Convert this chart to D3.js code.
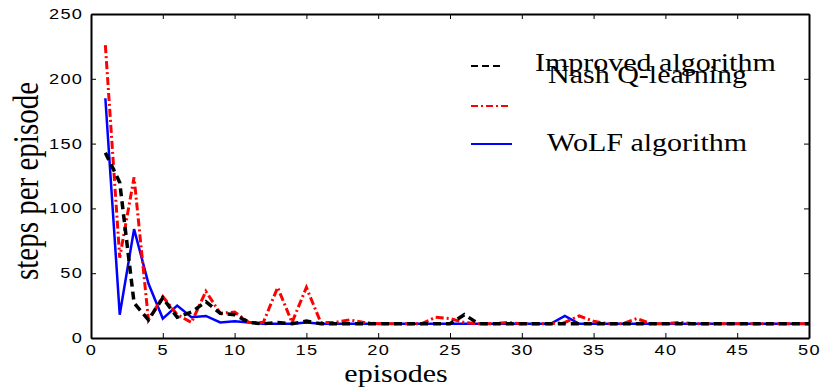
<!DOCTYPE html>
<html>
<head>
<meta charset="utf-8">
<script src="https://cdn.jsdelivr.net/npm/d3@7"></script>
<style>
  body { margin: 0; background: #fff; }
  svg { display: block; }
  .tick text { font-family: "Liberation Sans", Arial, sans-serif; font-size: 14px; fill: #000; }
  .lbl { font-family: "Liberation Serif", "Times New Roman", serif; fill: #000; }
</style>
</head>
<body>
<svg id="chart" width="822" height="389"></svg>
<script>
// episodes 1..50
const episodes = d3.range(1, 51);

const improvedSteps = [143, 120, 27, 14, 31, 16, 20, 28, 19, 18,
  12, 11, 12, 11, 13, 11, 11, 11, 11, 11,
  11, 11, 11, 11, 11, 18, 11, 11, 11, 11,
  11, 11, 11, 11, 11, 11, 11, 11, 11, 11,
  11, 11, 11, 11, 11, 11, 11, 11, 11, 11];

const nashSteps = [226, 62, 124, 14, 32, 18, 12, 36, 19, 20,
  12, 12, 39, 12, 39, 12, 12, 14, 12, 11,
  11, 11, 11, 16, 15, 12, 11, 11, 12, 11,
  11, 11, 12, 17, 13, 11, 11, 15, 11, 11,
  12, 11, 11, 11, 11, 11, 11, 11, 11, 11];

const wolfSteps = [185, 18, 84, 42, 15, 25, 16, 17, 12, 13,
  12, 11, 11, 11, 12, 11, 11, 11, 11, 11,
  11, 11, 11, 11, 11, 11, 11, 11, 11, 11,
  11, 11, 17, 11, 11, 11, 11, 11, 11, 11,
  11, 11, 11, 11, 11, 11, 11, 11, 11, 11];

const seriesNames = ["Improved algorithm", "Nash Q-learning", "WoLF algorithm"];
const xTicks = d3.range(0, 51, 5);
const yTicks = [0, 50, 100, 150, 200, 250];

const svg = d3.select("#chart");
const m = { left: 91, right: 809, top: 14, bottom: 338 };

const x = d3.scaleLinear().domain([0, 50]).range([m.left, m.right]);
const y = d3.scaleLinear().domain([0, 250]).range([m.bottom, m.top]);

// axes, ticks point inwards on all four sides
const gx = svg.append("g").attr("transform", `translate(0,${m.bottom})`)
  .call(d3.axisBottom(x).tickValues(xTicks).tickSizeInner(-5).tickSizeOuter(0).tickPadding(4));
svg.append("g").attr("transform", `translate(0,${m.top})`)
  .call(d3.axisTop(x).tickValues(xTicks).tickSizeInner(-5).tickSizeOuter(0).tickFormat(""));
const gy = svg.append("g").attr("transform", `translate(${m.left},0)`)
  .call(d3.axisLeft(y).tickValues(yTicks).tickSizeInner(-5).tickSizeOuter(0).tickPadding(6));
svg.append("g").attr("transform", `translate(${m.right},0)`)
  .call(d3.axisRight(y).tickValues(yTicks).tickSizeInner(-5).tickSizeOuter(0).tickFormat(""));

svg.selectAll(".domain").attr("stroke", "#000").attr("stroke-width", 2);
svg.selectAll(".tick line").attr("stroke", "#000").attr("stroke-width", 1);

// wide looking tick labels
gx.selectAll(".tick text").attr("transform", "scale(1.3,1)").attr("letter-spacing", "1px").attr("dy", "0.9em");
gy.selectAll(".tick text").attr("x", -6).attr("transform", "scale(1.3,1)").attr("letter-spacing", "1px");

const line = d3.line()
  .x((d, i) => x(episodes[i]))
  .y(d => y(d));

const plot = svg.append("g");

plot.append("path").datum(wolfSteps)
  .attr("d", line).attr("fill", "none")
  .attr("stroke", "#0000ff").attr("stroke-width", 2.5);

plot.append("path").datum(nashSteps)
  .attr("d", line).attr("fill", "none")
  .attr("stroke", "#ff0000").attr("stroke-width", 3)
  .attr("stroke-dasharray", "8,3,2,3");

plot.append("path").datum(improvedSteps)
  .attr("d", line).attr("fill", "none")
  .attr("stroke", "#000").attr("stroke-width", 3.5)
  .attr("stroke-dasharray", "8,5");

// legend
const legend = svg.append("g");
legend.append("line").attr("x1", 471).attr("x2", 504).attr("y1", 66).attr("y2", 66)
  .attr("stroke", "#000").attr("stroke-width", 1.8).attr("stroke-dasharray", "7,4");
legend.append("line").attr("x1", 471).attr("x2", 508).attr("y1", 106).attr("y2", 106)
  .attr("stroke", "#ff0000").attr("stroke-width", 1.8).attr("stroke-dasharray", "7,3,2,3");
legend.append("line").attr("x1", 471).attr("x2", 512).attr("y1", 144).attr("y2", 144)
  .attr("stroke", "#0000ff").attr("stroke-width", 2);

legend.append("text").attr("class", "lbl")
  .attr("transform", "translate(535,71) scale(1.2,1)")
  .attr("font-size", 25).text(seriesNames[0]);
legend.append("text").attr("class", "lbl")
  .attr("transform", "translate(548,83) scale(1.2,1)")
  .attr("font-size", 25).text(seriesNames[1]);
legend.append("text").attr("class", "lbl")
  .attr("transform", "translate(547,151) scale(1.2,1)")
  .attr("font-size", 25).text(seriesNames[2]);

// axis titles
svg.append("text").attr("class", "lbl")
  .attr("transform", "translate(396,382) scale(1.2,1)")
  .attr("text-anchor", "middle").attr("font-size", 25)
  .text("episodes");

svg.append("text").attr("class", "lbl")
  .attr("transform", "translate(38,181) scale(1.2,1) rotate(-90)")
  .attr("text-anchor", "middle").attr("font-size", 29)
  .text("steps per episode");
</script>
</body>
</html>
